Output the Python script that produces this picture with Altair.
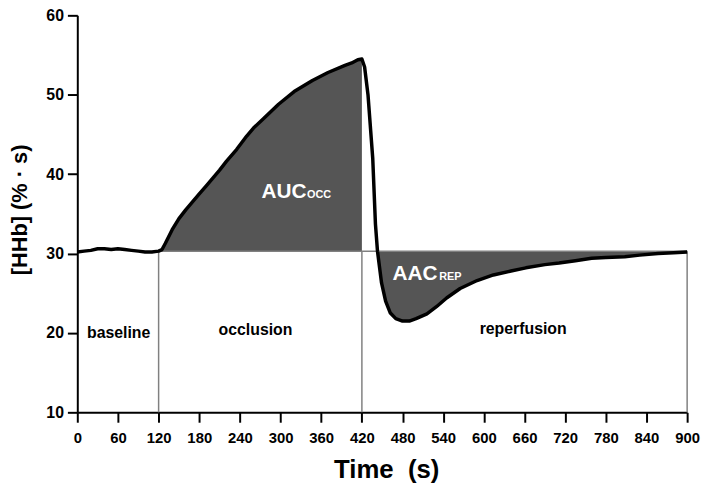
import altair as alt
import pandas as pd

# ---- data ----
time_s = [0, 10, 20, 30, 40, 50, 60, 70, 80, 90, 100, 110, 120, 125, 130, 140, 150, 160,
          170, 180, 190, 200, 210, 220, 235, 250, 260, 275, 297, 320, 347, 370, 395, 405,
          414, 420, 424, 429, 436, 440, 443, 449, 455, 462, 470, 480, 490, 500, 516, 530,
          545, 565, 590, 614, 640, 662, 690, 711, 735, 759, 780, 808, 830, 857, 880, 900]
hhb = [30.2, 30.3, 30.4, 30.6, 30.6, 30.5, 30.6, 30.5, 30.4, 30.3, 30.2, 30.2, 30.3, 30.5,
       31.3, 33.0, 34.4, 35.5, 36.5, 37.5, 38.5, 39.5, 40.5, 41.6, 43.1, 44.8, 45.8, 47.0,
       48.8, 50.4, 51.8, 52.8, 53.7, 54.0, 54.4, 54.5, 53.5, 50.0, 42.0, 33.7, 30.3, 26.3,
       24.0, 22.5, 21.8, 21.5, 21.5, 21.8, 22.4, 23.3, 24.4, 25.6, 26.6, 27.3, 27.8, 28.2,
       28.6, 28.8, 29.1, 29.4, 29.5, 29.6, 29.8, 30.0, 30.1, 30.2]

ref_level = 30.3
x_ticks = list(range(0, 901, 60))
y_ticks = [10, 20, 30, 40, 50, 60]
phase_bounds = [120, 420, 900]
phase_names = ["baseline", "occlusion", "reperfusion"]
phase_name_t = [61, 263, 658]
phase_name_v = [20.0, 20.3, 20.5]
occ_range = [120, 420]
rep_start = 443

main_labels = ["AUC", "AAC"]
main_label_t = [272, 465]
main_label_v = [37.0, 26.7]
sub_labels = ["OCC", "REP"]
sub_label_t = [339, 534]
sub_label_v = [37.0, 26.7]

# ---- tables ----
df = pd.DataFrame({"t": time_s, "v": hhb})
df_occ = df[(df.t >= occ_range[0]) & (df.t <= occ_range[1])]
df_rep = df[df.t >= rep_start]
df_bounds = pd.DataFrame({"t": phase_bounds})
df_names = pd.DataFrame({"t": phase_name_t, "v": phase_name_v, "label": phase_names})
df_main = pd.DataFrame({"t": main_label_t, "v": main_label_v, "label": main_labels})
df_sub = pd.DataFrame({"t": sub_label_t, "v": sub_label_v, "label": sub_labels})

FONT = "Liberation Sans, Arial, sans-serif"

x_scale = alt.Scale(domain=[0, 900], nice=False)
y_scale = alt.Scale(domain=[10, 60], nice=False)

x_axis = alt.Axis(values=x_ticks, title="Time\u00a0\u00a0(s)", grid=False,
                  labelFont=FONT, labelFontSize=15, labelFontWeight="bold",
                  labelColor="black", labelPadding=8, labelOverlap=False, labelFlush=False,
                  domainColor="black", domainWidth=2, tickColor="black", tickWidth=2,
                  tickSize=10, titleFont=FONT, titleFontSize=26, titleFontWeight="bold",
                  titleColor="black", titleX=312, titleY=66, titleBaseline="alphabetic",
                  titleAlign="center")
y_axis = alt.Axis(values=y_ticks, title="[HHb]\u00a0(%\u00a0·\u00a0s)", grid=False,
                  labelFont=FONT, labelFontSize=16, labelFontWeight="bold",
                  labelColor="black", labelPadding=4, labelOverlap=False, labelFlush=False,
                  domainColor="black", domainWidth=2, tickColor="black", tickWidth=2,
                  tickSize=10, titleFont=FONT, titleFontSize=22, titleFontWeight="bold",
                  titleColor="black", titleX=-58, titleY=196, titleAngle=270,
                  titleAlign="center", titleBaseline="middle")

FILL = "#555555"
GRAY = "#808080"

area_occ = alt.Chart(df_occ).mark_area(color=FILL, opacity=1).encode(
    x=alt.X("t:Q", scale=x_scale, axis=x_axis),
    y=alt.Y("v:Q", scale=y_scale, axis=y_axis),
    y2=alt.datum(ref_level),
)
area_rep = alt.Chart(df_rep).mark_area(color=FILL, opacity=1).encode(
    x=alt.X("t:Q", scale=x_scale),
    y=alt.Y("v:Q", scale=y_scale),
    y2=alt.datum(ref_level),
)
vrules = alt.Chart(df_bounds).mark_rule(color=GRAY, strokeWidth=1.5).encode(
    x=alt.X("t:Q", scale=x_scale),
    y=alt.datum(10),
    y2=alt.datum(ref_level),
)
hrule = alt.Chart(pd.DataFrame({"a": [0]})).mark_rule(color=GRAY, strokeWidth=1.5).encode(
    x=alt.datum(phase_bounds[0]),
    x2=alt.datum(phase_bounds[-1]),
    y=alt.datum(ref_level),
)
line = alt.Chart(df).mark_line(color="black", strokeWidth=3.5, strokeJoin="round").encode(
    x=alt.X("t:Q", scale=x_scale),
    y=alt.Y("v:Q", scale=y_scale),
)
names = alt.Chart(df_names).mark_text(font=FONT, fontSize=16, fontWeight="bold",
                                      color="black", align="center",
                                      baseline="middle").encode(
    x=alt.X("t:Q", scale=x_scale), y=alt.Y("v:Q", scale=y_scale), text="label:N")
mains = alt.Chart(df_main).mark_text(font=FONT, fontSize=21, fontWeight="bold",
                                     color="white", align="left",
                                     baseline="alphabetic").encode(
    x=alt.X("t:Q", scale=x_scale), y=alt.Y("v:Q", scale=y_scale), text="label:N")
subs = alt.Chart(df_sub).mark_text(font=FONT, fontSize=11, fontWeight="bold",
                                   color="white", align="left",
                                   baseline="alphabetic").encode(
    x=alt.X("t:Q", scale=x_scale), y=alt.Y("v:Q", scale=y_scale), text="label:N")

chart = alt.layer(area_occ, area_rep, vrules, hrule, line, names, mains, subs).properties(
    width=616, height=401,
    autosize=alt.AutoSizeParams(type="none"),
    padding={"left": 70, "top": 5, "right": 14, "bottom": 71},
).configure_view(stroke=None)

chart.save("out.html", embed_options={"renderer": "svg", "actions": False})
